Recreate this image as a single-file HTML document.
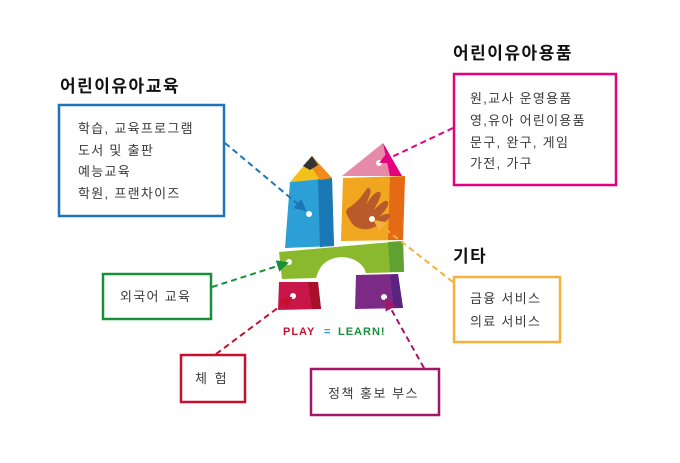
<!DOCTYPE html>
<html><head><meta charset="utf-8"><style>
html,body{margin:0;padding:0;background:#fff;}
svg{display:block}
text{font-family:"Liberation Sans","Noto Sans CJK KR",sans-serif;}
.t{font-size:13px;fill:#3a3a3a;letter-spacing:1.3px;}
.h{font-size:17px;font-weight:bold;fill:#111;letter-spacing:1.5px;}
</style></head><body>
<svg width="680" height="463" viewBox="0 0 680 463" xmlns="http://www.w3.org/2000/svg">
<defs>
<marker id="mb" markerWidth="12" markerHeight="12" refX="10" refY="6" orient="auto" markerUnits="userSpaceOnUse"><path d="M0,0 L12,6 L0,12 z" fill="#1f73b7"/></marker>
<marker id="mp" markerWidth="12" markerHeight="12" refX="10" refY="6" orient="auto" markerUnits="userSpaceOnUse"><path d="M0,0 L12,6 L0,12 z" fill="#e4007f"/></marker>
<marker id="mo" markerWidth="12" markerHeight="12" refX="10" refY="6" orient="auto" markerUnits="userSpaceOnUse"><path d="M0,0 L12,6 L0,12 z" fill="#f6b03c"/></marker>
<marker id="mg" markerWidth="12" markerHeight="12" refX="10" refY="6" orient="auto" markerUnits="userSpaceOnUse"><path d="M0,0 L12,6 L0,12 z" fill="#1a8f3a"/></marker>
<marker id="mr" markerWidth="12" markerHeight="12" refX="10" refY="6" orient="auto" markerUnits="userSpaceOnUse"><path d="M0,0 L12,6 L0,12 z" fill="#c8102e"/></marker>
<marker id="mv" markerWidth="12" markerHeight="12" refX="10" refY="6" orient="auto" markerUnits="userSpaceOnUse"><path d="M0,0 L12,6 L0,12 z" fill="#a3176b"/></marker>
</defs>

<polygon points="290,182 332,178 334,246 285,248" fill="#2b9fd6"/>
<polygon points="318,179 332,178 334,246 320,247" fill="#1a78b5"/>
<polygon points="290,182 312,156 332,178" fill="#f2c21a"/>
<polygon points="312,156 332,178 320,180 310,165" fill="#f08a1c"/>
<polygon points="303,166 312,156 318,165 310,170" fill="#333"/>
<polygon points="343,178 405,176 403,240 341,241" fill="#f0a61e"/>
<polygon points="390,177 405,176 403,240 388,240" fill="#e56a15"/>
<polygon points="342,176 383,143 402,176" fill="#e58aa8"/>
<polygon points="383,143 402,176 390,176" fill="#e4007f"/>
<path d="M350,207 C360,200 362,195 366,190 C368,186 372,188 370,194 L366,205 C370,198 376,190 380,192 C383,195 376,205 374,210 C380,204 386,198 388,202 C390,206 382,214 378,218 C382,214 390,212 390,216 C388,222 378,226 372,228 C362,232 352,226 350,220 C346,214 344,210 350,207z" fill="#b85a2a"/>
<path d="M279,252 L403,241 L404,272 L366,273 C362,258 340,252 326,262 C320,266 318,272 316,278 L282,279z" fill="#8ab92d"/>
<polygon points="388,242 403,241 404,272 390,272" fill="#5fa132"/>
<polygon points="279,282 318,282 321,309 278,310" fill="#c8154a"/>
<polygon points="308,282 318,282 321,309 312,309" fill="#a8102a"/>
<polygon points="356,275 398,274 403,308 355,309" fill="#7c2a86"/>
<polygon points="390,275 398,274 403,308 394,308" fill="#5a2380"/>
<circle cx="309" cy="214" r="3" fill="#fff"/>
<circle cx="379" cy="163" r="3" fill="#fff"/>
<circle cx="372" cy="219" r="3" fill="#fff"/>
<circle cx="289" cy="262" r="3" fill="#fff"/>
<circle cx="293" cy="296" r="3" fill="#fff"/>
<circle cx="384" cy="297" r="3" fill="#fff"/>
<text x="283" y="335" style="font-size:11px;font-weight:bold;fill:#c8102e;letter-spacing:1px">PLAY</text>
<text x="324" y="335" style="font-size:11px;font-weight:bold;fill:#2b9fd6">=</text>
<text x="338" y="335" style="font-size:11px;font-weight:bold;fill:#1a8f3a;letter-spacing:1px">LEARN!</text>

<g fill="none" stroke-width="2" stroke-dasharray="6,4">
<line x1="225" y1="143" x2="305" y2="210" stroke="#1f73b7" marker-end="url(#mb)"/>
<line x1="453" y1="128" x2="381" y2="162" stroke="#e4007f" marker-end="url(#mp)"/>
<line x1="453" y1="282" x2="375" y2="221" stroke="#f6b03c" marker-end="url(#mo)"/>
<line x1="212" y1="287" x2="287" y2="263" stroke="#1a8f3a" marker-end="url(#mg)"/>
<line x1="216" y1="354" x2="291" y2="298" stroke="#c8102e" marker-end="url(#mr)"/>
<line x1="424" y1="368" x2="386" y2="300" stroke="#a3176b" marker-end="url(#mv)"/>
</g>

<g fill="#fff" stroke-width="2.5">
<rect x="59" y="105" width="165" height="111" stroke="#1f73b7"/>
<rect x="454" y="74" width="162" height="111" stroke="#e4007f"/>
<rect x="454" y="277" width="106" height="65" stroke="#f6b03c"/>
<rect x="103" y="274" width="108" height="45" stroke="#1a8f3a"/>
<rect x="181" y="355" width="64" height="47" stroke="#c8102e"/>
<rect x="311" y="369" width="128" height="46" stroke="#a3176b"/>
</g>

<text x="60" y="92" class="h">어린이유아교육</text>
<text x="78" y="133" class="t">학습, 교육프로그램</text>
<text x="78" y="155" class="t">도서 및 출판</text>
<text x="78" y="176" class="t">예능교육</text>
<text x="78" y="198" class="t">학원, 프랜차이즈</text>

<text x="453" y="59" class="h">어린이유아용품</text>
<text x="470" y="103" class="t">원,교사 운영용품</text>
<text x="470" y="125" class="t">영,유아 어린이용품</text>
<text x="470" y="147" class="t">문구, 완구, 게임</text>
<text x="470" y="168" class="t">가전, 가구</text>

<text x="453" y="262" class="h">기타</text>
<text x="470" y="303" class="t">금융 서비스</text>
<text x="470" y="326" class="t">의료 서비스</text>

<text x="120" y="301" class="t">외국어 교육</text>
<text x="195" y="383" class="t" style="letter-spacing:2px">체 험</text>
<text x="328" y="398" class="t" style="letter-spacing:1.5px">정책 홍보 부스</text>
</svg>
</body></html>
